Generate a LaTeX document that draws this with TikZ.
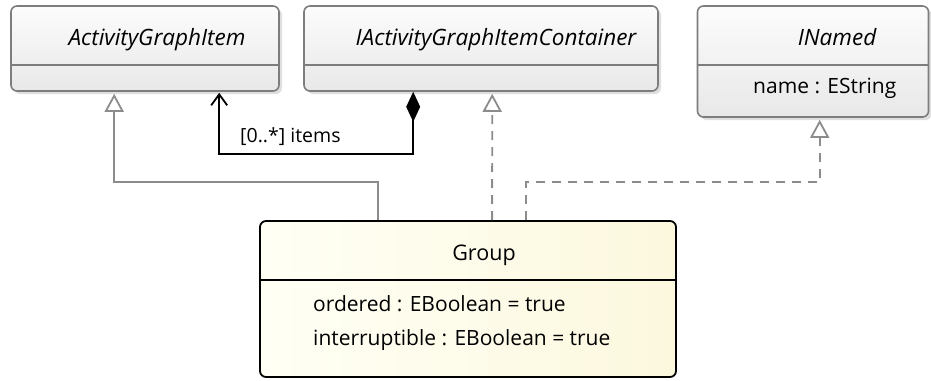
\documentclass[tikz,border=0pt]{standalone}
\usepackage{fontspec}
\setmainfont{Open Sans}
\usetikzlibrary{arrows.meta,calc,shadows}
\definecolor{boxline}{RGB}{125,125,125}
\definecolor{conn}{RGB}{140,140,140}
\definecolor{boxtop}{RGB}{252,252,252}
\definecolor{boxbot}{RGB}{232,232,232}
\definecolor{ytop}{RGB}{255,255,245}
\definecolor{ybot}{RGB}{252,248,222}
\definecolor{shadowc}{RGB}{215,215,215}
\tikzset{
  cls/.style={draw=boxline, line width=1.6pt, rounded corners=6pt, top color=boxtop, bottom color=boxbot,
    drop shadow={shadow xshift=3pt, shadow yshift=-3pt, fill=shadowc, opacity=0.8}, inner sep=0pt},
  grp/.style={draw=black, line width=1.8pt, rounded corners=6pt, left color=ytop, right color=ybot, inner sep=0pt},
  divider/.style={line width=1.6pt},
  title/.style={font=\fontsize{22.5}{26}\selectfont\itshape, inner sep=0pt, anchor=base},
  titleup/.style={font=\fontsize{21.5}{26}\selectfont, inner sep=0pt, anchor=base},
  attr/.style={font=\fontsize{21}{26}\selectfont, inner sep=0pt, anchor=base west},
  lab/.style={font=\fontsize{19.5}{24}\selectfont, inner sep=0pt, anchor=base west},
  gen/.style={draw=conn, line width=1.8pt, -{Triangle[open, width=19pt, length=18pt, line width=1.8pt]}},
  real/.style={gen, dash pattern=on 9pt off 7pt},
  comp/.style={draw=black, line width=1.8pt, {Diamond[width=14pt, length=30pt]}-{Straight Barb[length=11pt, width=16pt, line width=1.8pt]}},
}
\begin{document}
\begin{tikzpicture}[x=1pt, y=-1pt]
\useasboundingbox (0,0) rectangle (931,380);
% classes
\node[cls, minimum width=268pt, minimum height=85pt] (agi) at (145,48.5) {};
\node[cls, minimum width=354pt, minimum height=85pt] (iagic) at (481,48.5) {};
\node[cls, minimum width=231pt, minimum height=111pt] (inamed) at (813,61.5) {};
\node[grp, minimum width=416pt, minimum height=156pt] (group) at (468,299) {};
% dividers
\draw[divider, draw=boxline] (agi.west |- 0,65) -- (agi.east |- 0,65);
\draw[divider, draw=boxline] (iagic.west |- 0,65) -- (iagic.east |- 0,65);
\draw[divider, draw=boxline] (inamed.west |- 0,65) -- (inamed.east |- 0,65);
\draw[divider, draw=black] (group.west |- 0,280) -- (group.east |- 0,280);
% texts
\node[title] (tagi) at (157,45) {ActivityGraphItem};
\node[title] (tiagic) at (496,45) {IActivityGraphItemContainer};
\node[title] (tinamed) at (837,45) {INamed};
\node[attr] (aname) at (753,93) {name : EString};
\node[titleup] (tgroup) at (484,260) {Group};
\node[attr] (aord) at (313,311) {ordered : EBoolean = true};
\node[attr] (aint) at (313,345) {interruptible : EBoolean = true};
% connectors
\draw[gen] ($(group.north west)+(119,0)$) |- ++(0,-38) -| ($(agi.south west)+(104,2)$);
\draw[real] ($(group.north west)+(233,0)$) -- ($(iagic.south west)+(189,2)$);
\draw[real] ($(group.north west)+(267,0)$) |- ++(0,-38) -| ($(inamed.south west)+(123,2)$);
\draw[comp] ($(iagic.south west)+(110,0)$) |- ($(agi.south west)+(209,62)$) -- ($(agi.south west)+(209,1)$);
\node[lab] (lbl) at (240,142) {[0..*] items};
\end{tikzpicture}
\end{document}
